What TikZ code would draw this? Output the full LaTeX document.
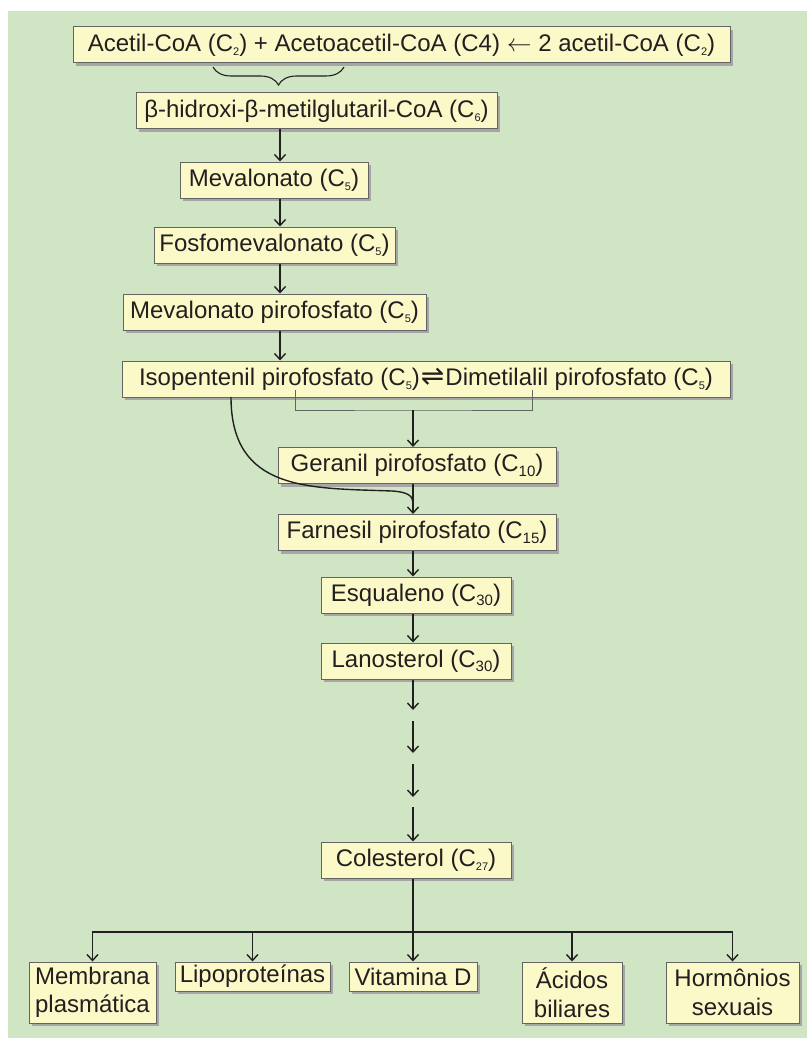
\documentclass[tikz,border=0pt]{standalone}
\usepackage{fontspec}
\setmainfont{Liberation Sans}
\newfontfamily\symfont{DejaVu Sans}
\usetikzlibrary{arrows.meta,shadows,decorations.pathreplacing}

\definecolor{bggreen}{RGB}{207,229,196}
\definecolor{boxyellow}{RGB}{252,249,200}
\definecolor{boxline}{RGB}{100,100,100}
\definecolor{ink}{RGB}{35,31,32}

% carbon count: C with a lowered small number
\newcommand{\carb}[2][11]{C\raisebox{-0.35ex}{\fontsize{#1}{#1}\selectfont #2}}
\newcommand{\equil}{\kern1pt{\symfont\fontsize{28}{28}\selectfont ⇌}\kern1pt}

\begin{document}
\begin{tikzpicture}[
  x=1pt, y=-1pt,
  stage/.style={draw=boxline, fill=boxyellow, line width=1pt, inner sep=0pt,
                minimum height=36pt, align=center, text=ink,
                font=\fontsize{24}{28.5}\selectfont,
                drop shadow={shadow xshift=3pt, shadow yshift=-3pt,
                             fill=black!35, opacity=1}},
  leaf/.style={stage, minimum height=29pt},
  twoleaf/.style={stage, minimum height=61pt},
  link/.style={draw=ink, line width=1.4pt},
  >={Straight Barb[length=6pt,width=11pt]}
]
\useasboundingbox (0,0) rectangle (807,1038);
\fill[bggreen] (8,11) rectangle (807,1038);

% main chain
\node[stage, minimum width=657pt] (acet) at (401.5,45)
  {Acetil-CoA (\carb{2}) + Acetoacetil-CoA (C4) $\leftarrow$ 2 acetil-CoA (\carb{2})};
\node[stage, minimum width=361pt] (hmg)  at (316.5,111) {β-hidroxi-β-metilglutaril-CoA (\carb{6})};
\node[stage, minimum width=188pt] (mev)  at (274,180)   {Mevalonato (\carb{5})};
\node[stage, minimum width=241pt] (fmev) at (274.5,245) {Fosfomevalonato (\carb{5})};
\node[stage, minimum width=303pt] (mpp)  at (274.5,312) {Mevalonato pirofosfato (\carb{5})};
\node[stage, minimum width=608pt] (ipp)  at (426,379)
  {Isopentenil pirofosfato (\carb{5})\equil Dimetilalil pirofosfato (\carb{5})};
\node[stage, minimum width=278pt] (gpp)  at (417,465.5) {Geranil pirofosfato (\carb[15]{10})};
\node[stage, minimum width=278pt] (fpp)  at (417,532.5) {Farnesil pirofosfato (\carb[15]{15})};
\node[stage, minimum width=190pt] (esq)  at (416,595)   {Esqualeno (\carb[15]{30})};
\node[stage, minimum width=190pt] (lan)  at (416,661)   {Lanosterol (\carb[15]{30})};
\node[stage, minimum width=190pt] (col)  at (416,860)   {Colesterol (\carb{27})};

% products
\node[twoleaf, minimum width=127pt] (mem) at (92.5,992.5) {Membrana\\plasmática};
\node[leaf, minimum width=155pt]    (lip) at (252.5,976.5) {Lipoproteínas};
\node[leaf, minimum width=128pt]    (vit) at (413,976.5)   {Vitamina D};
\node[twoleaf, minimum width=100pt] (aci) at (572,992.5)   {Ácidos\\biliares};
\node[twoleaf, minimum width=133pt] (hor) at (732.5,992.5) {Hormônios\\sexuais};

\coordinate (ax) at (280,0);
\coordinate (bx) at (413,0);

% brace under the two acetyl units
\coordinate (brR) at (344,67);
\coordinate (brL) at (213,67);
\draw[ink, line width=1.1pt, decorate, decoration={brace, amplitude=18pt}] (brR) -- (brL);

\draw[link,->] (hmg.south -| ax) -- (mev.north -| ax);
\draw[link,->] (mev.south -| ax) -- (fmev.north -| ax);
\draw[link,->] (fmev.south -| ax) -- (mpp.north -| ax);
\draw[link,->] (mpp.south -| ax) -- (ipp.north -| ax);

% IPP + DMAPP join
\coordinate (bkL) at (295,390);
\coordinate (bkR) at (532,390);
\coordinate (bkM) at (413,410);
\draw[boxline, line width=0.8pt] (bkL) |- (bkM) -| (bkR);
\draw[link,->] (bkM) -- (gpp.north -| bkM);

% second IPP joins below GPP
\coordinate (cvS) at (231,397);
\coordinate (cvE) at (413,503);
\draw[link] (cvS) .. controls (231,492) and (310,488) .. (392,491)
                  .. controls (408,492) and (413,496) .. (cvE);
\draw[link,->] (gpp.south -| bx) -- (fpp.north -| bx);
\draw[link,->] (fpp.south -| bx) -- (esq.north -| bx);
\draw[link,->] (esq.south -| bx) -- (lan.north -| bx);

% several steps
\coordinate (d1) at (413,710);
\coordinate (d2) at (413,721);
\coordinate (d3) at (413,753);
\coordinate (d4) at (413,764);
\coordinate (d5) at (413,797);
\coordinate (d6) at (413,807);
\draw[link,->] (lan.south -| bx) -- (d1);
\draw[link,->] (d2) -- (d3);
\draw[link,->] (d4) -- (d5);
\draw[link,->] (d6) -- (col.north -| bx);

% branches
\coordinate (hub) at (413,932);
\draw[link,->] (col.south -| bx) -- (vit.north -| bx);
\foreach \n in {mem,lip,aci,hor}
  \draw[link,->] (hub) -| (\n.north);
\end{tikzpicture}
\end{document}
